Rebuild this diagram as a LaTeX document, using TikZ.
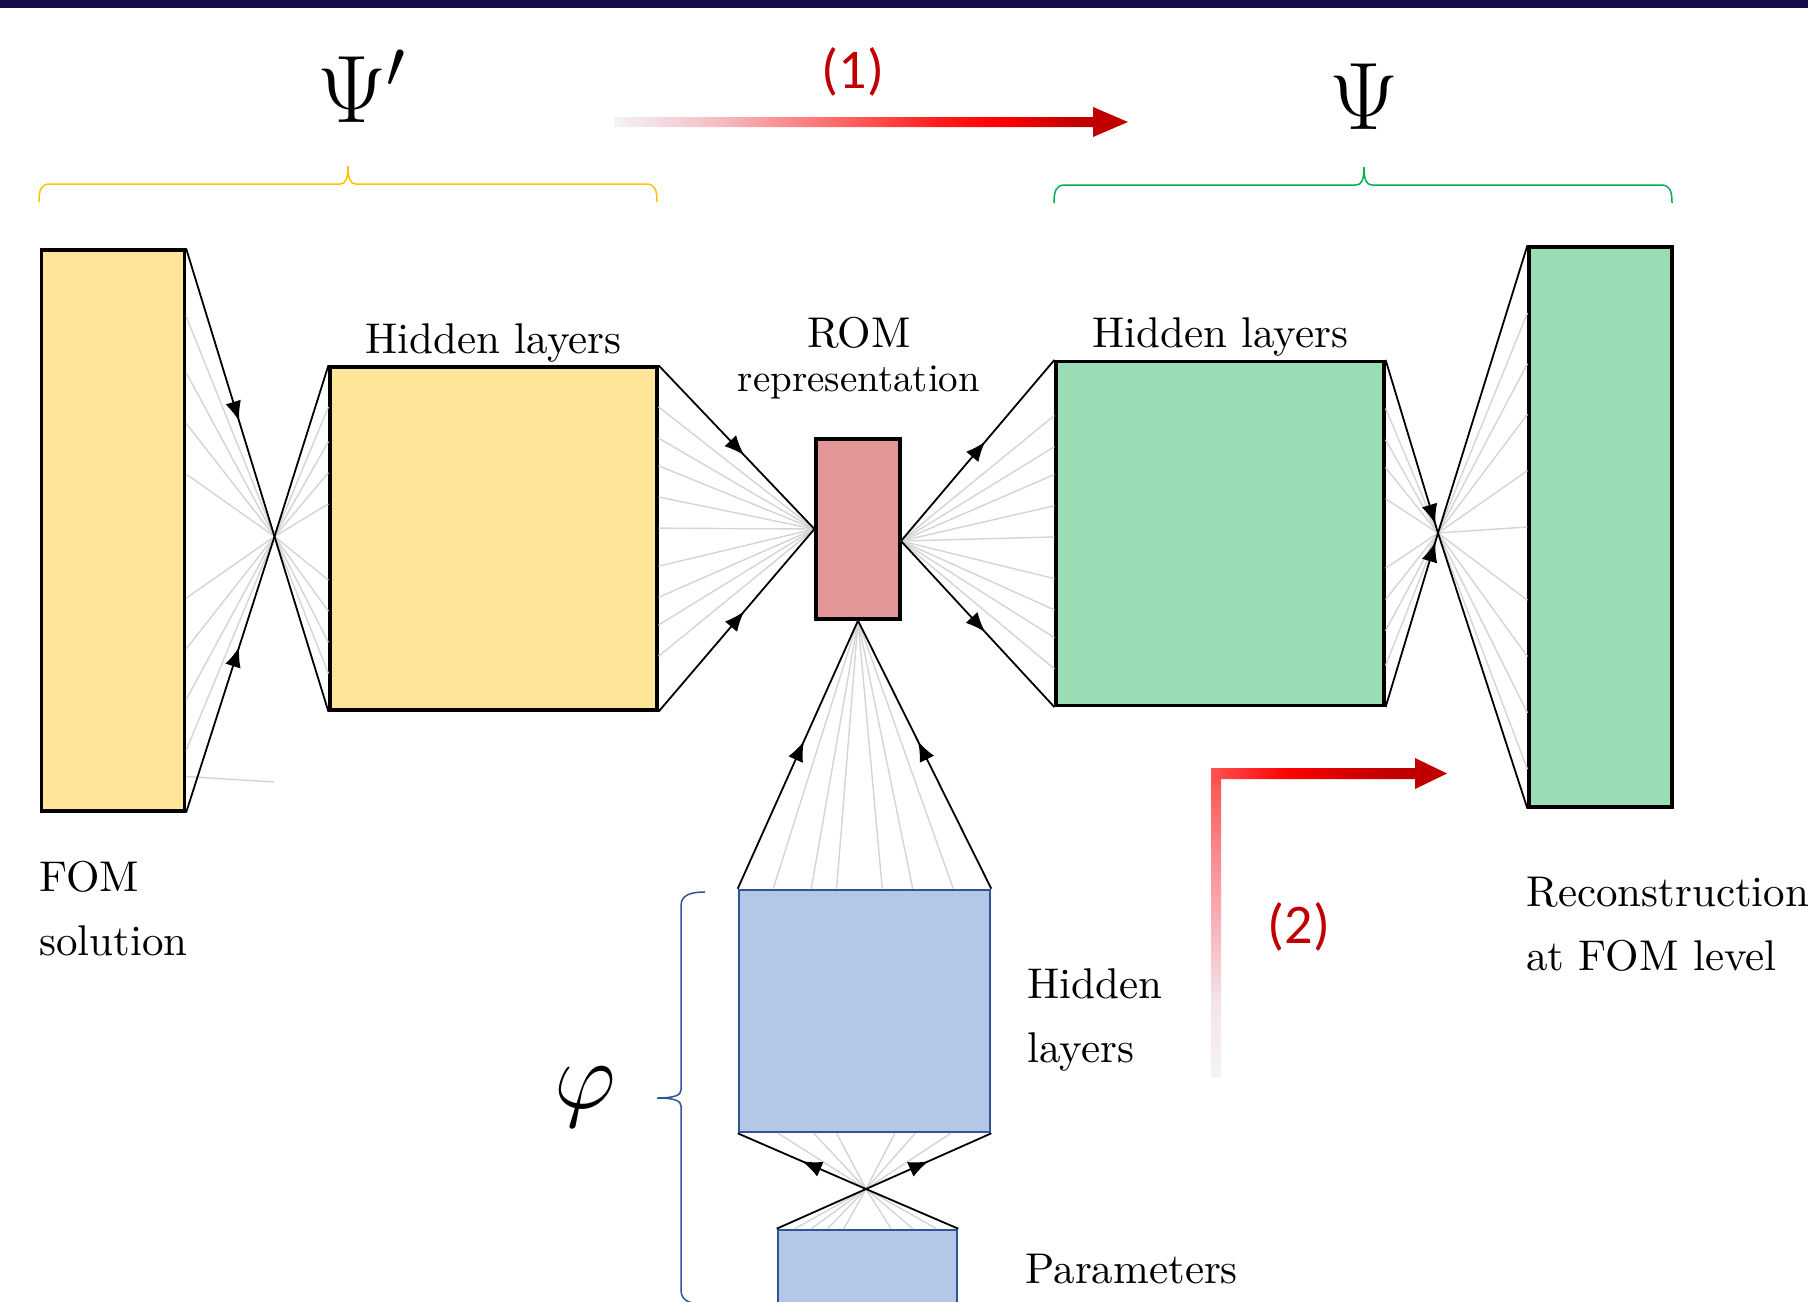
\RequirePackage{fix-cm}
\documentclass[tikz,border=0pt]{standalone}
\usepackage{fontspec}
\setmainfont{lmroman10-regular.otf}
\newfontfamily\numfont{Carlito}
\usetikzlibrary{arrows.meta, calc, decorations.markings}
\definecolor{aeNavy}{HTML}{170C4E}
\definecolor{aeYellow}{HTML}{FFE599}
\definecolor{aeAmber}{HTML}{FFC000}
\definecolor{aeGreen}{HTML}{9ADDB5}
\definecolor{aeLeaf}{HTML}{00B050}
\definecolor{aeRose}{HTML}{E39696}
\definecolor{aeBlue}{HTML}{B4C7E7}
\definecolor{aeBlueInk}{HTML}{2F5597}
\definecolor{aeWire}{HTML}{D4D4D4}
\definecolor{aeRed}{HTML}{C00000}
\definecolor{aeFade}{HTML}{F4F3F9}
\definecolor{aePink}{HTML}{F5BCC4}
\definecolor{aeBlush}{HTML}{F5E4EA}
\definecolor{aeSalmon}{HTML}{F7B4BC}
\definecolor{aeCoral}{HTML}{FB8A90}
\definecolor{aeLight}{HTML}{FF5252}
\definecolor{aeWarm}{HTML}{FF6464}
\definecolor{aeHot}{HTML}{FF2020}
\definecolor{aePure}{HTML}{FF0000}
\definecolor{aeDeep}{HTML}{D00000}
\pgfdeclarehorizontalshading{stepone}{100bp}{color(0bp)=(aeFade); color(25bp)=(aeFade);
  color(35bp)=(aePink); color(47.5bp)=(aeWarm); color(56bp)=(aeHot);
  color(62.5bp)=(aePure); color(70bp)=(aeRed); color(75bp)=(aeRed); color(100bp)=(aeRed)}
\pgfdeclarehorizontalshading{steptwo}{100bp}{color(0bp)=(aeLight); color(25bp)=(aeLight);
  color(41.5bp)=(aePure); color(56.5bp)=(aeDeep); color(65bp)=(aeRed);
  color(75bp)=(aeRed); color(100bp)=(aeRed)}
\pgfdeclareverticalshading{steptwoup}{100bp}{color(0bp)=(aeFade); color(25bp)=(aeFade);
  color(37.5bp)=(aeBlush); color(50bp)=(aeSalmon); color(62.5bp)=(aeCoral);
  color(75bp)=(aeLight); color(100bp)=(aeLight)}

\begin{document}
\begin{tikzpicture}[
    x=0.5pt, y=-0.5pt,
    layer/.style={draw=black, line width=1.6pt, inner sep=0pt},
    player/.style={draw=aeBlueInk, line width=1.3pt, fill=aeBlue, inner sep=0pt},
    wire/.style={draw=aeWire, line width=0.7pt},
    link/.style={draw=black, line width=0.9pt},
    arr/.style={postaction={decorate}, decoration={markings,
                mark=at position #1 with {\arrow{Latex[length=10pt,width=8pt]}}}},
    txt/.style={font=\fontsize{21.5}{32}\selectfont, inner sep=0pt},
    big/.style={font=\fontsize{48}{48}\selectfont, inner sep=0pt},
    num/.style={font=\numfont\fontsize{28}{28}\selectfont, text=aeRed, inner sep=0pt},
    brc/.style={line width=0.75pt},
  ]
  \useasboundingbox (0,0) rectangle (1808,1301);
  \clip (0,0) rectangle (1808,1301);
  \fill[aeNavy] (0,0) rectangle (1808,8);

  % layers
  \node[layer, fill=aeYellow, minimum width=71.5pt, minimum height=280.5pt] (fom) at (113,530.5) {};
  \node[layer, fill=aeYellow, minimum width=163.5pt, minimum height=171.5pt] (enc) at (493.5,538.5) {};
  \node[layer, fill=aeRose, minimum width=42pt, minimum height=90pt] (rom) at (858,529) {};
  \node[layer, fill=aeGreen, minimum width=164pt, minimum height=172pt] (dec) at (1220,533.5) {};
  \node[layer, fill=aeGreen, minimum width=71.5pt, minimum height=280pt] (rec) at (1600.5,527) {};
  \node[player, minimum width=125.5pt, minimum height=121pt] (phid) at (864.5,1011) {};
  \node[player, minimum width=89.5pt, minimum height=80pt] (par) at (867.5,1310) {};

  \coordinate (x1) at (274.5,536.5);
  \coordinate (re) at (901,541);
  \coordinate (x2) at (1438,533);
  \coordinate (x3) at (866,1189);
  \coordinate (stray) at (274,782);

  % encoder fans
  \foreach \t in {0.12,0.22,0.31,0.4,0.62,0.71,0.8,0.89}{
    \draw[wire] ($(fom.north east)!\t!(fom.south east)$) -- (x1);
    \draw[wire] (x1) -- ($(enc.north west)!\t!(enc.south west)$);
  }
  \draw[wire] ($(fom.north east)!0.936!(fom.south east)$) -- (stray);
  \draw[link, arr=0.6] (fom.north east) -- (x1);
  \draw[link, arr=0.6] (fom.south east) -- (x1);
  \draw[link] (x1) -- (enc.north west);
  \draw[link] (x1) -- (enc.south west);

  \foreach \t in {0.12,0.21,0.29,0.38,0.47,0.58,0.67,0.75,0.84}
    \draw[wire] ($(enc.north east)!\t!(enc.south east)$) -- (rom.west);
  \draw[link, arr=0.55] (enc.north east) -- (rom.west);
  \draw[link, arr=0.55] (enc.south east) -- (rom.west);

  % decoder fans
  \foreach \t in {0.16,0.25,0.33,0.42,0.51,0.63,0.72,0.8,0.89}
    \draw[wire] (re) -- ($(dec.north west)!\t!(dec.south west)$);
  \draw[link, arr=0.55] (re) -- (dec.north west);
  \draw[link, arr=0.55] (re) -- (dec.south west);

  \foreach \t in {0.14,0.23,0.31,0.4,0.6,0.69,0.78,0.88}
    \draw[wire] ($(dec.north east)!\t!(dec.south east)$) -- (x2);
  \foreach \t in {0.12,0.21,0.3,0.4,0.5,0.63,0.73,0.83,0.93}
    \draw[wire] (x2) -- ($(rec.north west)!\t!(rec.south west)$);
  \draw[link, arr=0.95] (dec.north east) -- (x2);
  \draw[link, arr=0.95] (dec.south east) -- (x2);
  \draw[link] (x2) -- (rec.north west);
  \draw[link] (x2) -- (rec.south west);

  % parameter branch
  \foreach \t in {0.14,0.29,0.39,0.57,0.69,0.85}
    \draw[wire] ($(phid.north west)!\t!(phid.north east)$) -- (rom.south);
  \draw[link, arr=0.55] (phid.north west) -- (rom.south);
  \draw[link, arr=0.55] (phid.north east) -- (rom.south);
  \foreach \t in {0.16,0.3,0.39,0.62,0.7,0.84}
    \draw[wire] ($(phid.south west)!\t!(phid.south east)$) -- (x3);
  \foreach \t in {0.1,0.19,0.28,0.37,0.63,0.75,0.88}
    \draw[wire] (x3) -- ($(par.north west)!\t!(par.north east)$);
  \draw[link, arr=0.5] (x3) -- (phid.south west);
  \draw[link, arr=0.5] (x3) -- (phid.south east);
  \draw[link] (x3) -- (par.north west);
  \draw[link] (x3) -- (par.north east);

  % labels
  \node[txt, anchor=base] (enclbl) at (493.5,353) {Hidden layers};
  \node[txt, anchor=base] (declbl) at (1220,347) {Hidden layers};
  \node[txt, anchor=base] (romlbl) at (859,347) {ROM};
  \node[txt, anchor=base, font=\fontsize{19.5}{22}\selectfont] (romsub) at (859,391) {representation};
  \node[txt, anchor=base west, align=left] (fomlbl) at (39,955) {FOM\\solution};
  \node[txt, anchor=base west, align=left] (reclbl) at (1526,970) {Reconstruction\\at FOM level};
  \node[txt, anchor=base west, align=left] (phidlbl) at (1027,1062) {Hidden\\layers};
  \node[txt, anchor=base west] (parlbl) at (1025,1283) {Parameters};

  \node[big, anchor=base west] (psienc) at (317,122) {$\Psi'$};
  \node[big, anchor=base] (psidec) at (1364,129) {$\Psi$};
  \node[big, anchor=base] (phi) at (585,1108) {$\varphi$};

  % braces
  \draw[brc, aeAmber] (39,202) .. controls (39,190) and (41,184) .. (50,184) -- (340,184)
    .. controls (346,184) and (348,178) .. (348,166) .. controls (348,178) and (350,184) .. (356,184)
    -- (646,184) .. controls (655,184) and (657,190) .. (657,202);
  \draw[brc, aeLeaf] (1054,203) .. controls (1054,191) and (1056,185) .. (1065,185) -- (1356,185)
    .. controls (1362,185) and (1364,179) .. (1364,167) .. controls (1364,179) and (1366,185) .. (1372,185)
    -- (1661,185) .. controls (1670,185) and (1672,191) .. (1672,203);
  \draw[brc, aeBlueInk] (705,892) .. controls (690,892) and (681,895) .. (681,906) -- (681,1090)
    .. controls (681,1095) and (675,1098) .. (657,1098) .. controls (675,1098) and (681,1101) .. (681,1106)
    -- (681,1290) .. controls (681,1301) and (690,1304) .. (705,1304);

  % training steps
  \shade[shading=stepone] (614,117) -- (1093,117) -- (1093,107) -- (1128,122)
    -- (1093,137) -- (1093,127) -- (614,127) -- cycle;
  \node[num] (stepA) at (853,72) {(1)};
  \shade[shading=steptwoup] (1211,779) rectangle (1221,1077);
  \shade[shading=steptwo] (1211,768) -- (1415,768) -- (1415,758) -- (1447,773.5)
    -- (1415,789) -- (1415,779) -- (1211,779) -- cycle;
  \node[num] (stepB) at (1299,927) {(2)};
\end{tikzpicture}
\end{document}
